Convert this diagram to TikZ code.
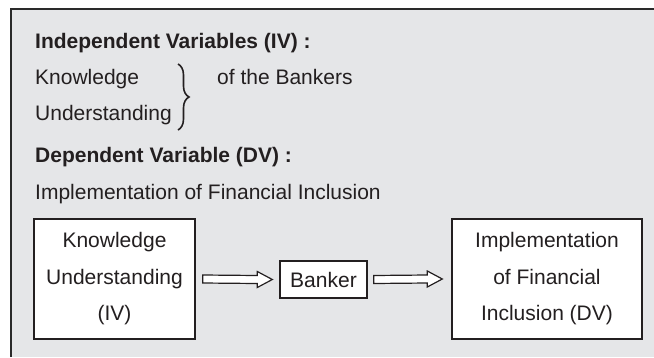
\documentclass[tikz,border=0pt]{standalone}
\usepackage{fontspec}
\setmainfont{Liberation Sans}
\usetikzlibrary{calc,decorations.pathreplacing}
\definecolor{bgray}{HTML}{E5E6E8}
\definecolor{ink}{HTML}{231F20}
\definecolor{frame}{HTML}{2A2A2A}
\newcommand\harrow[2]{%
  \draw[arrowline] ($#1+(0,4)$) -- ($#2+(-15,4)$) -- ($#2+(-15,8)$) -- ($#2$)
    -- ($#2+(-15,-8)$) -- ($#2+(-15,-4)$) -- ($#1+(0,-4)$) -- cycle;}
\begin{document}
\begin{tikzpicture}[x=1pt,y=-1pt,
  every node/.style={text=ink,font=\fontsize{21}{36.5}\selectfont,inner sep=0pt},
  txt/.style={anchor=base west},
  hdr/.style={anchor=base west,font=\fontsize{21}{25}\selectfont\bfseries},
  boxnode/.style={draw=ink,line width=1.4pt,fill=white,align=center,minimum height=120pt},
  arrowline/.style={draw=ink,line width=1.2pt,fill=white,line join=miter}]
\useasboundingbox (0,0) rectangle (654,357);
\fill[white] (0,0) rectangle (654,357);
\fill[bgray] (11,9) rectangle (654,357);
\draw[frame,line width=2.5pt] (11,357) -- (11,9) -- (654,9);

\node[hdr] (h1) at (35,48) {Independent Variables (IV) :};
\node[txt] (k) at (35,84) {Knowledge};
\node[txt] (u) at (35,120) {Understanding};
\node[txt] (ob) at (217,84) {of the Bankers};
\coordinate (bt) at (178,64);
\coordinate (bb) at (178,130);
\draw[ink,line width=1.6pt,decorate,decoration={brace,amplitude=11pt}] (bt) -- (bb);
\node[hdr] (h2) at (35,162) {Dependent Variable (DV) :};
\node[txt] (impl) at (35,199) {Implementation of Financial Inclusion};

\node[boxnode,minimum width=161pt] (kb) at (114.5,279) {Knowledge\\Understanding\\(IV)};
\node[boxnode,minimum width=87pt,minimum height=37pt] (bk) at (323.5,279.5) {Banker};
\node[boxnode,minimum width=190pt] (db) at (547,279) {Implementation\\of Financial\\Inclusion (DV)};

\harrow{(kb.east)+(7,0)}{(bk.west)+(-7,0)}
\harrow{(bk.east)+(6,0)}{(db.west)+(-9,0)}
\end{tikzpicture}
\end{document}
